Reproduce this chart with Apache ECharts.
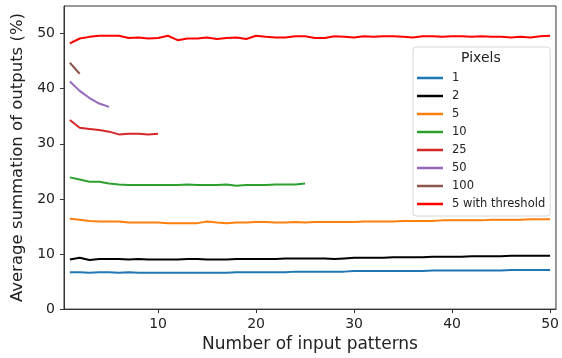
<!DOCTYPE html>
<html>
<head>
<meta charset="utf-8">
<script src="https://cdn.jsdelivr.net/npm/echarts@6/dist/echarts.min.js"></script>
<style>
  html, body { margin: 0; padding: 0; background: #fff; }
  #chart { width: 562px; height: 358px; }
</style>
</head>
<body>
<div id="chart"></div>
<script>
// values, index 0 = 1 input pattern
const px1 = [6.7,6.7,6.6,6.7,6.7,6.6,6.7,6.6,6.6,6.6, 6.6,6.6,6.6,6.6,6.6,6.6,6.6,6.7,6.7,6.7,
  6.7,6.7,6.7,6.8,6.8,6.8,6.8,6.8,6.8,6.9, 6.9,6.9,6.9,6.9,6.9,6.9,6.9,7.0,7.0,7.0,
  7.0,7.0,7.0,7.0,7.0,7.1,7.1,7.1,7.1,7.1];
const px2 = [9.0,9.3,8.9,9.1,9.1,9.1,9.0,9.1,9.0,9.0, 9.0,9.0,9.1,9.1,9.0,9.0,9.0,9.1,9.1,9.1,
  9.1,9.1,9.2,9.2,9.2,9.2,9.2,9.1,9.2,9.3, 9.3,9.3,9.3,9.4,9.4,9.4,9.4,9.5,9.5,9.5,
  9.5,9.6,9.6,9.6,9.6,9.7,9.7,9.7,9.7,9.7];
const px5 = [16.4,16.2,16.0,15.9,15.9,15.9,15.7,15.7,15.7,15.7, 15.6,15.6,15.6,15.6,15.9,15.7,15.6,15.7,15.7,15.8,
  15.8,15.7,15.7,15.8,15.7,15.8,15.8,15.8,15.8,15.8, 15.9,15.9,15.9,15.9,16.0,16.0,16.0,16.0,16.1,16.1,
  16.1,16.1,16.1,16.2,16.2,16.2,16.2,16.3,16.3,16.3];
const px10 = [23.9,23.5,23.1,23.1,22.8,22.6,22.5,22.5,22.5,22.5, 22.5,22.5,22.6,22.5,22.5,22.5,22.6,22.4,22.5,22.5,
  22.5,22.6,22.6,22.6,22.8];
const px25 = [34.3,32.9,32.7,32.5,32.2,31.7,31.8,31.8,31.7,31.8];
const px50 = [41.3,39.6,38.3,37.3,36.7];
const px100 = [44.7,42.7];
const px5thr = [48.2,49.1,49.4,49.6,49.6,49.6,49.2,49.3,49.1,49.2, 49.6,48.8,49.1,49.1,49.3,49.0,49.2,49.3,49.0,49.6,
  49.4,49.3,49.3,49.5,49.5,49.2,49.2,49.5,49.4,49.3, 49.5,49.4,49.5,49.5,49.4,49.3,49.5,49.5,49.4,49.5,
  49.5,49.4,49.5,49.4,49.4,49.3,49.4,49.3,49.5,49.6];

const seriesNames = ['1', '2', '5', '10', '25', '50', '100', '5 with threshold'];
const seriesValues = [px1, px2, px5, px10, px25, px50, px100, px5thr];
const seriesColors = ['#1f77b4', '#000000', '#ff7f0e', '#2ca02c', '#d62728', '#9467bd', '#8c564b', '#ff0000'];

const xTicks = [10, 20, 30, 40, 50];
const yTicks = [0, 10, 20, 30, 40, 50];

const font = 'DejaVu Sans';
const myChart = echarts.init(document.getElementById('chart'));

const series = seriesValues.map((vals, i) => ({
  name: seriesNames[i],
  type: 'line',
  data: vals.map((v, j) => [j + 1, v]),
  symbol: 'none',
  color: seriesColors[i],
  lineStyle: { width: 2, color: seriesColors[i] },
  animation: false
}));

myChart.setOption({
  animation: false,
  textStyle: { fontFamily: font },
  grid: {
    left: 64, right: 4, top: 6, bottom: 43,
    show: true, borderColor: '#333', borderWidth: 1
  },
  xAxis: {
    type: 'value',
    min: 0.4, max: 50.6,
    name: 'Number of input patterns',
    nameLocation: 'middle',
    nameGap: 19,
    nameTextStyle: { fontSize: 17, color: '#222', fontFamily: font },
    axisLine: { show: true, lineStyle: { color: '#333', width: 1 } },
    axisTick: { show: true, length: 4, customValues: xTicks, lineStyle: { color: '#333' } },
    axisLabel: { customValues: xTicks, fontSize: 14, color: '#222', margin: 8, fontFamily: font },
    splitLine: { show: false }
  },
  yAxis: {
    type: 'value',
    min: 0, max: 55,
    name: 'Average summation of outputs (%)',
    nameLocation: 'middle',
    nameGap: 34,
    nameTextStyle: { fontSize: 16.5, color: '#222', fontFamily: font },
    axisLine: { show: true, lineStyle: { color: '#333', width: 1 } },
    axisTick: { show: true, length: 4, customValues: yTicks, lineStyle: { color: '#333' } },
    axisLabel: { customValues: yTicks, fontSize: 14, color: '#222', margin: 9, fontFamily: font },
    splitLine: { show: false }
  },
  legend: {
    data: seriesNames,
    orient: 'vertical',
    left: 413, top: 47,
    padding: [24, 5, 5, 4],
    icon: 'rect',
    itemWidth: 26, itemHeight: 2.5, itemGap: 4,
    backgroundColor: 'rgba(255,255,255,0.9)',
    borderColor: '#d6d6d6', borderWidth: 1, borderRadius: 3,
    textStyle: { fontSize: 11.5, color: '#222', fontFamily: font, padding: [0, 0, 0, 4], lineHeight: 14 }
  },
  graphic: [{
    type: 'text',
    left: 461, top: 51,
    z: 100,
    style: { text: 'Pixels', fontSize: 14, fill: '#222', fontFamily: font }
  }],
  series: series
});
</script>
</body>
</html>
